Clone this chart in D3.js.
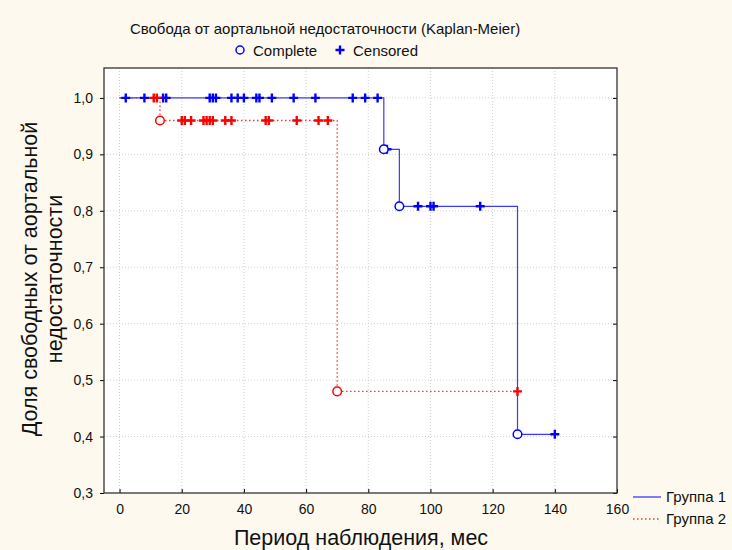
<!DOCTYPE html>
<html>
<head>
<meta charset="utf-8">
<script src="https://cdn.jsdelivr.net/npm/d3@7"></script>
<style>
  body { margin: 0; background: #fdf9ef; }
  svg { display: block; font-family: Arial, "Liberation Sans", sans-serif; }
</style>
</head>
<body>
<svg id="chart" width="732" height="550"></svg>
<script>
// Step curves (time, survival)
const group1Times = [0, 85, 90, 128, 140];
const group1Surv = [1.0, 0.909, 0.808, 0.404, 0.404];
const group1Events = [85, 90, 128];
const group1Censored = [2, 8, 14, 15, 29, 30, 31, 36, 38, 40, 44, 45, 49, 56, 63, 75, 79, 83, 86, 96, 100, 101, 116, 140];

const group2Times = [0, 13, 70, 128];
const group2Surv = [1.0, 0.96, 0.48, 0.48];
const group2Events = [13, 70];
const group2Censored = [11, 12, 20, 21, 23, 27, 28, 29, 30, 34, 36, 47, 48, 57, 64, 67, 128];

const xTicks = [0, 20, 40, 60, 80, 100, 120, 140, 160];
const yTicks = [0.3, 0.4, 0.5, 0.6, 0.7, 0.8, 0.9, 1.0];
const groupNames = ["Группа 1", "Группа 2"];

const svg = d3.select("#chart");
const plot = { left: 104, right: 617, top: 68, bottom: 493 };

const x = d3.scaleLinear().domain([-5, 160]).range([plot.left, plot.right]);
const y = d3.scaleLinear().domain([0.3, 1.053]).range([plot.bottom, plot.top]);

// value of the step curve at time t
function survAt(times, surv, t) {
  let v = surv[0];
  times.forEach((tt, i) => { if (tt <= t) v = surv[i]; });
  return v;
}

// plot background
svg.append("rect")
  .attr("x", plot.left).attr("y", plot.top)
  .attr("width", plot.right - plot.left).attr("height", plot.bottom - plot.top)
  .attr("fill", "#ffffff");

// grid
const grid = svg.append("g").attr("stroke", "#cfcfcf").attr("stroke-dasharray", "1,2");
xTicks.filter((d) => d < 160).forEach((d) => {
  grid.append("line").attr("x1", x(d)).attr("x2", x(d)).attr("y1", plot.top).attr("y2", plot.bottom);
});
yTicks.filter((d) => d > 0.3).forEach((d) => {
  grid.append("line").attr("x1", plot.left).attr("x2", plot.right).attr("y1", y(d)).attr("y2", y(d));
});

// axes
svg.append("g")
  .attr("transform", `translate(0,${plot.bottom})`)
  .call(d3.axisBottom(x).tickValues(xTicks).tickSizeInner(-4).tickSizeOuter(0).tickPadding(11))
  .call((g) => g.select(".domain").remove())
  .call((g) => g.selectAll("text").attr("font-size", 14).attr("fill", "#111"));

svg.append("g")
  .attr("transform", `translate(${plot.left},0)`)
  .call(d3.axisLeft(y).tickValues(yTicks).tickFormat((d) => d3.format(".1f")(d).replace(".", ",")).tickSizeInner(4).tickSizeOuter(0).tickPadding(7))
  .call((g) => g.select(".domain").remove())
  .call((g) => g.selectAll("text").attr("font-size", 14).attr("fill", "#111"));

svg.append("g")
  .attr("transform", `translate(${plot.right},0)`)
  .call(d3.axisRight(y).tickValues(yTicks).tickFormat("").tickSizeInner(-4).tickSizeOuter(0))
  .call((g) => g.select(".domain").remove());

// frame
svg.append("rect")
  .attr("x", plot.left).attr("y", plot.top)
  .attr("width", plot.right - plot.left).attr("height", plot.bottom - plot.top)
  .attr("fill", "none").attr("stroke", "#333").attr("stroke-width", 1.3);

// curves
const stepLine = d3.line().x((d) => x(d[0])).y((d) => y(d[1])).curve(d3.curveStepAfter);

function drawLine(times, surv, lineColor, dash) {
  svg.append("path")
    .datum(times.map((t, i) => [t, surv[i]]))
    .attr("d", stepLine)
    .attr("fill", "none")
    .attr("stroke", lineColor)
    .attr("stroke-width", dash ? 1.3 : 1.2)
    .attr("stroke-dasharray", dash);
}

function drawMarks(times, surv, events, censored, color) {
  const g = svg.append("g");
  g.selectAll(".cens")
    .data(censored)
    .join("path")
    .attr("d", (t) => {
      const cx = x(t), cy = y(survAt(times, surv, t));
      return `M${cx - 4.5},${cy}H${cx + 4.5}M${cx},${cy - 4.5}V${cy + 4.5}`;
    })
    .attr("stroke", color)
    .attr("stroke-width", 2.4);

  g.selectAll(".event")
    .data(events)
    .join("circle")
    .attr("cx", (t) => x(t))
    .attr("cy", (t) => y(survAt(times, surv, t)))
    .attr("r", 4.3)
    .attr("fill", "#fff")
    .attr("stroke", color)
    .attr("stroke-width", 1.5);
}

drawLine(group2Times, group2Surv, "#ff3030", "1.5,2.5");
drawLine(group1Times, group1Surv, "#3a3aff", null);
drawMarks(group1Times, group1Surv, group1Events, group1Censored, "#0000ff");
drawMarks(group2Times, group2Surv, group2Events, group2Censored, "#ff0000");

// title and marker legend
svg.append("text")
  .attr("x", 325).attr("y", 34)
  .attr("text-anchor", "middle")
  .attr("font-size", 15)
  .attr("fill", "#111")
  .text("Свобода от аортальной недостаточности (Kaplan-Meier)");

svg.append("circle").attr("cx", 240).attr("cy", 50).attr("r", 4).attr("fill", "#fff").attr("stroke", "#0000ff").attr("stroke-width", 1.5);
svg.append("text").attr("x", 253).attr("y", 55.5).attr("font-size", 15).attr("fill", "#111").text("Complete");
svg.append("path").attr("d", "M335.5,50H344.5M340,45.5V54.5").attr("stroke", "#0000ff").attr("stroke-width", 2.4);
svg.append("text").attr("x", 353).attr("y", 55.5).attr("font-size", 15).attr("fill", "#111").text("Censored");

// axis titles
svg.append("text")
  .attr("x", 361).attr("y", 545)
  .attr("text-anchor", "middle")
  .attr("font-size", 21.5)
  .attr("fill", "#111")
  .text("Период наблюдения, мес");

const yTitle = svg.append("text")
  .attr("transform", "translate(0,279) rotate(-90)")
  .attr("text-anchor", "middle")
  .attr("font-size", 21.5)
  .attr("fill", "#111");
yTitle.append("tspan").attr("x", 0).attr("y", 37).text("Доля свободных от аортальной");
yTitle.append("tspan").attr("x", 0).attr("y", 62).text("недостаточности");

// group legend
const legend = svg.append("g");
groupNames.forEach((name, i) => {
  const ly = 497 + i * 22;
  legend.append("line")
    .attr("x1", 633).attr("x2", 661).attr("y1", ly).attr("y2", ly)
    .attr("stroke", i === 0 ? "#3a3aff" : "#ff3030")
    .attr("stroke-width", 1.3)
    .attr("stroke-dasharray", i === 0 ? null : "1.5,2.5");
  legend.append("text")
    .attr("x", 666).attr("y", ly + 5)
    .attr("font-size", 15)
    .attr("fill", "#111")
    .text(name);
});
</script>
</body>
</html>
